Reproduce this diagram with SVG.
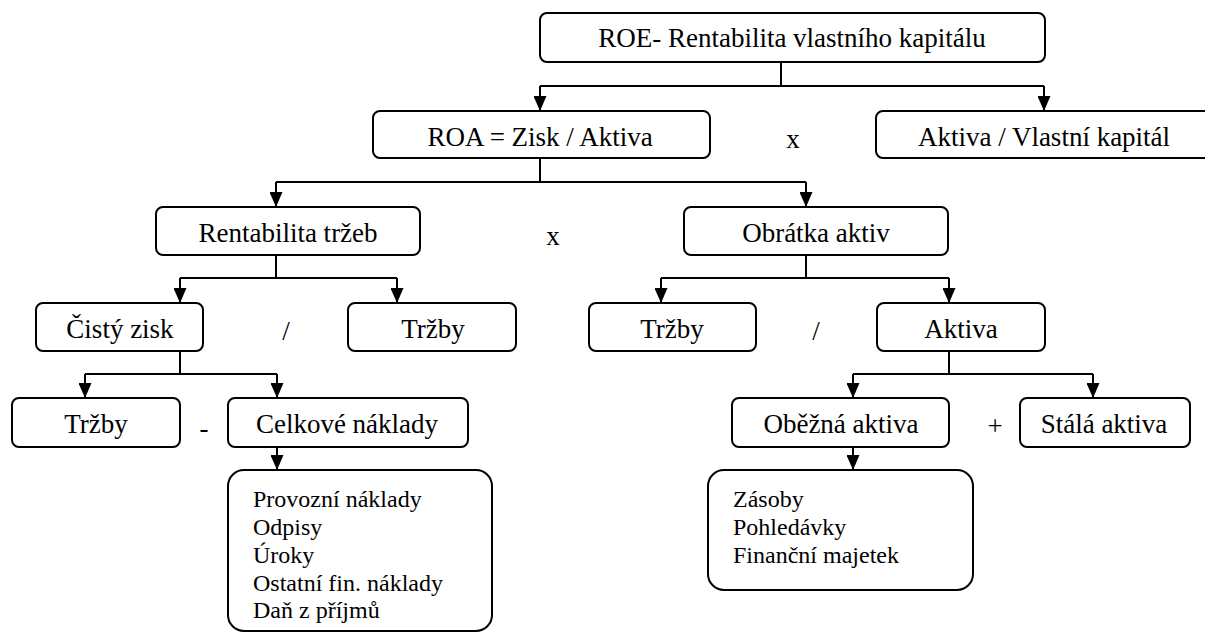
<svg xmlns="http://www.w3.org/2000/svg" width="1205" height="632" viewBox="0 0 1205 632">
<style>
.b{fill:#fff;stroke:#000;stroke-width:2}
.t{font-family:"Liberation Serif","Times New Roman",Times,Tinos,"DejaVu Serif",serif;font-size:27px;fill:#000;text-anchor:middle}
.l{font-family:"Liberation Serif","Times New Roman",Times,Tinos,"DejaVu Serif",serif;font-size:24px;fill:#000}
.c{fill:none;stroke:#000;stroke-width:2}
</style>
<defs>
<marker id="ah" markerWidth="13" markerHeight="15" refX="6.5" refY="15" orient="0" markerUnits="userSpaceOnUse">
<path d="M0,0 L13,0 L6.5,15 Z" fill="#000"/>
</marker>
</defs>
<rect width="1205" height="632" fill="#fff"/>
<g id="connectors">
<path class="c" d="M781,62 V86"/>
<path class="c" d="M540,86 H1044"/>
<path class="c" d="M540,86 V111" marker-end="url(#ah)"/>
<path class="c" d="M1044,86 V111" marker-end="url(#ah)"/>
<path class="c" d="M540,158 V182"/>
<path class="c" d="M276,182 H806"/>
<path class="c" d="M276,182 V207" marker-end="url(#ah)"/>
<path class="c" d="M806,182 V207" marker-end="url(#ah)"/>
<path class="c" d="M276,255 V278"/>
<path class="c" d="M180,278 H397"/>
<path class="c" d="M180,278 V303" marker-end="url(#ah)"/>
<path class="c" d="M397,278 V303" marker-end="url(#ah)"/>
<path class="c" d="M806,255 V278"/>
<path class="c" d="M661,278 H949"/>
<path class="c" d="M661,278 V303" marker-end="url(#ah)"/>
<path class="c" d="M949,278 V303" marker-end="url(#ah)"/>
<path class="c" d="M180,351 V374"/>
<path class="c" d="M85,374 H277"/>
<path class="c" d="M85,374 V398" marker-end="url(#ah)"/>
<path class="c" d="M277,374 V398" marker-end="url(#ah)"/>
<path class="c" d="M277,447 V470" marker-end="url(#ah)"/>
<path class="c" d="M949,351 V374"/>
<path class="c" d="M853,374 H1093"/>
<path class="c" d="M853,374 V398" marker-end="url(#ah)"/>
<path class="c" d="M1093,374 V398" marker-end="url(#ah)"/>
<path class="c" d="M853,447 V470" marker-end="url(#ah)"/>
</g>
<g id="roe"><rect class="b" x="540" y="13" width="505" height="49" rx="7"/><text class="t" x="792" y="47">ROE- Rentabilita vlastního kapitálu</text></g>
<g id="roa"><rect class="b" x="373" y="111" width="337" height="47" rx="7"/><text class="t" x="540" y="146">ROA = Zisk / Aktiva</text></g>
<g id="op1"><text class="t" x="793" y="148">x</text></g>
<g id="av"><rect class="b" x="876" y="111" width="336" height="47" rx="7"/><text class="t" x="1044" y="146">Aktiva / Vlastní kapitál</text></g>
<g id="rt"><rect class="b" x="156" y="207" width="264" height="48" rx="7"/><text class="t" x="288" y="242">Rentabilita tržeb</text></g>
<g id="op2"><text class="t" x="553" y="245">x</text></g>
<g id="oa"><rect class="b" x="684" y="207" width="264" height="48" rx="7"/><text class="t" x="816" y="242">Obrátka aktiv</text></g>
<g id="cz"><rect class="b" x="36" y="303" width="167" height="48" rx="7"/><text class="t" x="120" y="338">Čistý zisk</text></g>
<g id="op3"><text class="t" x="286" y="340">/</text></g>
<g id="tr1"><rect class="b" x="348" y="303" width="168" height="48" rx="7"/><text class="t" x="433" y="338">Tržby</text></g>
<g id="tr2"><rect class="b" x="589" y="303" width="167" height="48" rx="7"/><text class="t" x="672" y="338">Tržby</text></g>
<g id="op4"><text class="t" x="816" y="340">/</text></g>
<g id="ak"><rect class="b" x="877" y="303" width="168" height="48" rx="7"/><text class="t" x="961" y="338">Aktiva</text></g>
<g id="tr3"><rect class="b" x="12" y="398" width="168" height="49" rx="7"/><text class="t" x="96" y="433">Tržby</text></g>
<g id="op5"><text class="t" x="204" y="437">-</text></g>
<g id="cn"><rect class="b" x="228" y="398" width="240" height="49" rx="7"/><text class="t" x="347" y="433">Celkové náklady</text></g>
<g id="list1"><rect class="b" x="228" y="470" width="264" height="161" rx="16"/>
<text class="l" x="253" y="507">Provozní náklady</text>
<text class="l" x="253" y="535">Odpisy</text>
<text class="l" x="253" y="563">Úroky</text>
<text class="l" x="253" y="591">Ostatní fin. náklady</text>
<text class="l" x="253" y="618">Daň z příjmů</text></g>
<g id="ob"><rect class="b" x="732" y="398" width="217" height="49" rx="7"/><text class="t" x="841" y="433">Oběžná aktiva</text></g>
<g id="op6"><text class="t" x="995" y="435">+</text></g>
<g id="st"><rect class="b" x="1020" y="398" width="170" height="49" rx="7"/><text class="t" x="1104" y="433">Stálá aktiva</text></g>
<g id="list2"><rect class="b" x="708" y="470" width="265" height="120" rx="16"/>
<text class="l" x="733" y="507">Zásoby</text>
<text class="l" x="733" y="535">Pohledávky</text>
<text class="l" x="733" y="563">Finanční majetek</text></g>
</svg>
